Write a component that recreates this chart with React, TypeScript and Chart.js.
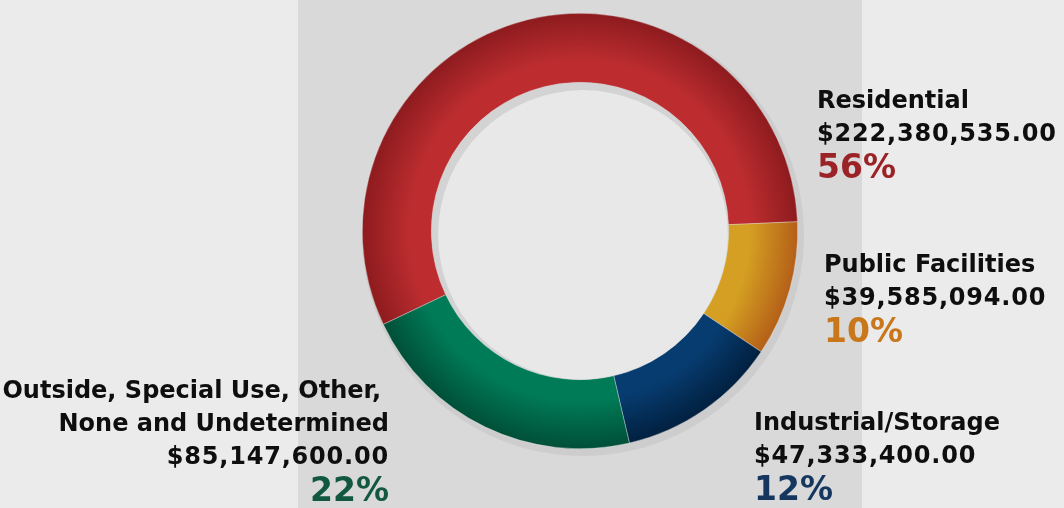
import React, { useEffect, useRef } from 'react';
import { Chart, registerables } from 'chart.js';

Chart.register(...registerables);

// ---- Data ----
const categories: string[] = [
  'Residential',
  'Public Facilities',
  'Industrial/Storage',
  'Outside, Special Use, Other, None and Undetermined',
];
const labelLines: string[][] = [
  ['Residential'],
  ['Public Facilities'],
  ['Industrial/Storage'],
  ['Outside, Special Use, Other,', 'None and Undetermined'],
];
const amounts: number[] = [222380535.0, 39585094.0, 47333400.0, 85147600.0];

// ---- Styles ----
const innerColors = ['#bd2d30', '#d49f22', '#073c70', '#007b57'];
const outerColors = ['#8d1b1e', '#b45f18', '#01203f', '#004f37'];
const percentColors = ['#9b2226', '#c8771b', '#14365f', '#12573f'];
const labelAnchors = [
  { x: 817, y: 108, align: 'left', trail: 0 },
  { x: 824, y: 272, align: 'left', trail: 0 },
  { x: 754, y: 430, align: 'left', trail: 0 },
  { x: 389, y: 398, align: 'right', trail: 8 },
];
const CUTOUT = 0.683;

function fmtMoney(v: number): string {
  return '$' + v.toLocaleString('en-US', { minimumFractionDigits: 2, maximumFractionDigits: 2 });
}

function geom(chart: any) {
  const a = chart.chartArea;
  const cx = (a.left + a.right) / 2;
  const cy = (a.top + a.bottom) / 2;
  const R = Math.min(a.right - a.left, a.bottom - a.top) / 2;
  return { cx, cy, R, r: R * CUTOUT };
}

const bgPlugin = {
  id: 'bgPlugin',
  beforeDraw(chart: any) {
    const ctx = chart.ctx;
    ctx.save();
    ctx.fillStyle = '#ebebeb';
    ctx.fillRect(0, 0, chart.width, chart.height);
    ctx.fillStyle = '#d9d9d9';
    ctx.fillRect(298, 0, 564, chart.height);
    const { cx, cy, R } = geom(chart);
    ctx.fillStyle = 'rgba(0,0,0,0.05)';
    ctx.beginPath();
    ctx.arc(cx + 3, cy + 4, R + 3, 0, Math.PI * 2);
    ctx.fill();
    ctx.restore();
  },
  afterDatasetsDraw(chart: any) {
    const ctx = chart.ctx;
    const { cx, cy, r } = geom(chart);
    ctx.save();
    ctx.beginPath();
    ctx.arc(cx, cy, r - 0.5, 0, Math.PI * 2);
    ctx.clip();
    ctx.fillStyle = '#d3d3d3';
    ctx.fillRect(cx - r, cy - r, 2 * r, 2 * r);
    ctx.fillStyle = '#e8e8e8';
    ctx.beginPath();
    ctx.arc(cx + 3, cy + 4, r - 4, 0, Math.PI * 2);
    ctx.fill();
    ctx.restore();
  },
  afterDraw(chart: any) {
    const ctx = chart.ctx;
    const total = amounts.reduce((s, v) => s + v, 0);
    ctx.save();
    ctx.textBaseline = 'alphabetic';
    labelAnchors.forEach((p, i) => {
      ctx.textAlign = p.align;
      let y = p.y;
      ctx.fillStyle = '#0e0e0e';
      ctx.font = 'bold 24px "DejaVu Sans"';
      ctx.letterSpacing = '0px';
      labelLines[i].forEach((t, k) => {
        ctx.fillText(t, p.x - (k === 0 ? p.trail : 0), y);
        y += 33;
      });
      ctx.letterSpacing = '0.8px';
      ctx.fillText(fmtMoney(amounts[i]), p.x, y);
      y += 37;
      ctx.fillStyle = percentColors[i];
      ctx.font = 'bold 33px "DejaVu Sans"';
      ctx.letterSpacing = '0px';
      ctx.fillText(Math.round((amounts[i] / total) * 100) + '%', p.x, y);
    });
    ctx.restore();
  },
};

export default function App() {
  const ref = useRef<HTMLCanvasElement | null>(null);
  useEffect(() => {
    if (!ref.current) return;
    const chart = new Chart(ref.current, {
      type: 'doughnut',
      data: {
        labels: categories,
        datasets: [
          {
            data: amounts,
            backgroundColor: (c: any) => {
              const ch = c.chart;
              const i = c.dataIndex;
              if (!ch.chartArea) return innerColors[i];
              const { cx, cy, R, r } = geom(ch);
              const g = ch.ctx.createRadialGradient(cx, cy, r, cx, cy, R);
              g.addColorStop(0, innerColors[i]);
              g.addColorStop(0.3, innerColors[i]);
              g.addColorStop(1, outerColors[i]);
              return g;
            },
            borderWidth: 0.6,
            borderColor: 'rgba(235,235,235,0.6)',
          },
        ],
      },
      options: {
        responsive: false,
        devicePixelRatio: 1,
        animation: false,
        cutout: CUTOUT * 100 + '%',
        rotation: 244.6,
        layout: { padding: { left: 362, right: 266, top: 13, bottom: 59 } },
        plugins: { legend: { display: false }, tooltip: { enabled: false } },
      },
      plugins: [bgPlugin],
    });
    return () => chart.destroy();
  }, []);
  return (
    <div style={{ position: 'fixed', left: 0, top: 0, width: 1064, height: 508 }}>
      <canvas ref={ref} width={1064} height={508} />
    </div>
  );
}
